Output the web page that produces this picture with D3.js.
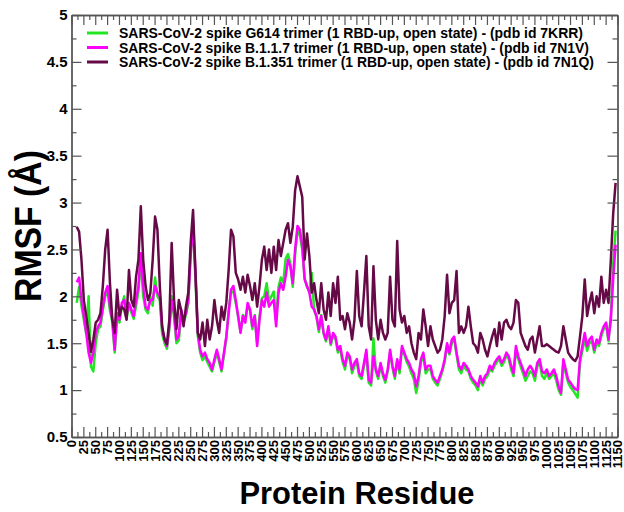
<!DOCTYPE html>
<html>
<head>
<meta charset="utf-8">
<script src="https://cdn.jsdelivr.net/npm/d3@7"></script>
<style>
  body { margin: 0; background: #fff; }
  svg { display: block; }
  .tick text { font-family: 'Liberation Sans', Arial, sans-serif; font-weight: bold; fill: #000; }
</style>
</head>
<body>
<div class="chart"></div>
<script>
// residue grid (every 5th residue)
var residues = d3.range(11, 1150, 5);

var seriesNames = [
  "SARS-CoV-2 spike G614 trimer (1 RBD-up, open  state) - (pdb id 7KRR)",
  "SARS-CoV-2 spike B.1.1.7 trimer (1 RBD-up, open state) - (pdb id 7N1V)",
  "SARS-CoV-2 spike B.1.351 trimer (1 RBD-up, open state) - (pdb id 7N1Q)"
];
var seriesColors = ["#22e622", "#ff00ff", "#650a46"];

// RMSF values (Å)
var rmsfG614 = [
  1.93,2.1,1.9,1.75,1.6,2.0,1.25,1.2,1.5,1.65,1.68,1.85,2.0,2.05,1.85,1.72,1.4,1.78,1.72,1.9,2.0,1.76,1.9,1.83,1.76,1.9,2.05,2.4,2.0,1.86,1.82,2.0,1.9,2.2,2.0,1.96,1.6,1.5,1.44,1.65,2.0,1.78,1.5,1.53,
  1.82,1.72,1.8,1.93,2.5,2.7,2.2,1.58,1.4,1.32,1.36,1.3,1.25,1.2,1.3,1.4,1.3,1.2,1.37,1.55,1.85,2.05,2.05,1.93,1.78,1.62,1.8,1.75,1.9,1.85,1.65,1.8,1.5,1.78,1.98,2.0,2.14,1.95,2.0,2.05,1.75,2.1,2.2,2.15,2.4,2.45,2.35,
  2.1,2.45,2.7,2.65,2.5,2.2,2.1,2.05,2.25,1.85,1.78,1.62,1.8,1.6,1.52,1.65,1.48,1.58,1.55,1.4,1.44,1.3,1.22,1.37,1.33,1.18,1.26,1.3,1.15,1.12,1.26,1.4,1.08,1.05,1.55,1.2,1.12,1.26,1.15,1.08,1.2,1.4,1.24,1.12,1.3,1.18,
  1.44,1.38,1.3,1.25,1.18,1.12,0.97,1.1,1.3,1.37,1.18,1.22,1.22,1.12,1.08,1.05,1.12,1.2,1.3,1.47,1.38,1.5,1.55,1.38,1.22,1.18,1.26,1.22,1.2,1.12,1.08,1.05,1.0,1.12,1.05,1.12,1.15,1.22,1.2,1.26,1.3,1.33,1.26,1.3,1.37,1.33,
  1.22,1.15,1.42,1.33,1.25,1.18,1.1,1.15,1.2,1.18,1.1,1.25,1.3,1.15,1.12,1.18,1.12,1.15,1.18,1.1,1.0,0.95,1.3,1.18,1.08,1.03,1.0,0.96,0.92,1.3,1.42,1.55,1.42,1.5,1.52,1.4,1.5,1.47,1.58,1.65,1.7,1.52,1.8,2.35,2.7
];
var rmsfB117 = [
  2.15,2.2,1.96,1.79,1.61,1.4,1.29,1.4,1.61,1.68,1.72,1.89,2.04,2.11,1.89,1.75,1.43,1.82,1.75,1.93,1.96,1.79,1.93,1.86,1.79,1.96,2.11,2.46,2.11,1.89,1.86,1.96,1.96,2.11,2.04,2.0,1.65,1.54,1.47,1.68,1.96,1.82,1.54,1.58,
  1.86,1.75,1.82,1.96,2.43,2.8,2.25,1.61,1.43,1.36,1.4,1.33,1.29,1.22,1.33,1.43,1.33,1.22,1.4,1.57,1.82,2.07,2.11,1.96,1.79,1.61,1.79,1.72,1.93,1.86,1.68,1.79,1.47,1.75,1.96,1.89,2.04,1.89,1.93,1.96,1.68,2.04,2.14,2.07,2.21,2.39,2.32,
  2.14,2.5,2.75,2.71,2.54,2.18,2.11,2.04,1.89,1.86,1.79,1.65,1.79,1.61,1.54,1.68,1.5,1.61,1.57,1.43,1.47,1.33,1.26,1.4,1.36,1.22,1.29,1.33,1.18,1.15,1.29,1.43,1.11,1.08,1.36,1.22,1.15,1.29,1.18,1.11,1.22,1.43,1.26,1.15,1.33,1.22,
  1.47,1.4,1.33,1.29,1.22,1.18,1.04,1.15,1.33,1.4,1.22,1.26,1.26,1.15,1.11,1.08,1.15,1.22,1.33,1.5,1.4,1.54,1.57,1.4,1.26,1.22,1.29,1.26,1.22,1.15,1.11,1.08,1.04,1.15,1.08,1.15,1.18,1.26,1.22,1.29,1.33,1.36,1.29,1.33,1.4,1.36,
  1.26,1.18,1.47,1.36,1.29,1.22,1.15,1.22,1.26,1.22,1.15,1.29,1.33,1.2,1.18,1.22,1.15,1.18,1.22,1.15,1.04,0.97,1.33,1.22,1.11,1.08,1.04,1.01,1.0,1.33,1.47,1.61,1.47,1.54,1.57,1.43,1.54,1.5,1.61,1.68,1.72,1.54,1.75,2.2,2.55
];
var rmsfB1351 = [
  2.74,2.69,2.39,1.96,1.79,1.61,1.41,1.54,1.72,1.75,1.82,2.11,2.5,2.71,2.14,1.75,1.61,2.07,1.79,1.89,1.86,1.75,2.28,1.96,1.89,2.21,2.39,2.96,2.39,2.11,1.96,2.03,2.39,2.85,2.71,2.11,1.68,1.54,1.49,1.75,2.57,1.96,1.65,1.96,
  1.85,1.68,1.89,2.04,2.57,2.92,2.28,1.61,1.54,1.72,1.47,1.75,1.54,1.68,1.96,1.75,1.61,1.89,1.75,1.93,2.28,2.71,2.64,2.25,2.18,2.07,2.21,2.04,2.23,2.11,1.96,2.14,1.89,2.11,2.39,2.53,2.28,2.5,2.25,2.53,2.28,2.6,2.43,2.57,2.71,2.78,2.57,
  2.74,3.13,3.28,3.17,3.06,2.39,2.67,2.43,2.04,2.14,1.96,1.82,2.14,1.86,1.75,2.04,1.79,2.14,1.93,2.21,1.75,1.79,1.65,1.82,1.72,1.54,1.75,2.27,1.79,1.68,2.04,2.43,1.68,1.54,2.32,1.75,1.54,1.75,1.61,1.54,1.61,2.21,1.75,1.68,2.59,1.86,
  1.72,1.79,1.61,1.68,1.5,1.4,1.33,1.61,1.54,1.86,1.68,1.47,1.68,1.54,1.47,1.4,1.43,1.54,1.79,2.23,1.82,1.93,1.96,2.27,1.61,1.68,1.61,1.68,1.89,1.68,1.5,1.47,1.4,1.61,1.54,1.43,1.36,1.47,1.57,1.65,1.47,1.72,1.54,1.72,1.75,1.68,
  1.65,1.72,1.96,1.93,1.61,1.54,1.47,1.43,1.54,1.57,1.4,1.54,1.68,1.47,1.47,1.49,1.47,1.45,1.43,1.41,1.4,1.47,1.68,1.54,1.4,1.36,1.33,1.31,1.36,1.57,1.79,2.18,1.79,1.93,2.04,1.82,2.0,1.89,2.21,1.93,2.07,1.93,2.39,2.89,3.21
];

var xTicks = d3.range(0, 1151, 25);
var xMinor = d3.range(12.5, 1150, 25);
var yTicks = [0.5, 1, 1.5, 2, 2.5, 3, 3.5, 4, 4.5, 5];
var yMinor = [0.75, 1.25, 1.75, 2.25, 2.75, 3.25, 3.75, 4.25, 4.75];

var width = 624, height = 512;
var plotL = 71.5, plotR = 617.5, plotT = 15, plotB = 437;

var svg = d3.select(".chart").append("svg")
    .attr("width", width).attr("height", height);

var x = d3.scaleLinear().domain([0, 1150]).range([plotL, plotR]);
var y = d3.scaleLinear().domain([0.5, 5]).range([plotB, plotT]);

// lines first, frame drawn over
var allSeries = [rmsfG614, rmsfB117, rmsfB1351];
var line = d3.line()
    .x(function(d, i) { return x(residues[i]); })
    .y(function(d) { return y(d); });

svg.append("g").attr("id", "lines")
  .selectAll("path")
  .data(allSeries)
  .enter()
  .append("path")
    .attr("d", line)
    .attr("fill", "none")
    .attr("stroke", function(d, i) { return seriesColors[i]; })
    .attr("stroke-width", 2.5)
    .attr("stroke-linejoin", "round");

var axisColor = "#555";
function styleAxis(g) {
  g.select(".domain").attr("stroke", axisColor).attr("stroke-width", 1.3);
  g.selectAll(".tick line").attr("stroke", axisColor).attr("stroke-width", 1.2);
}

// bottom
var gb = svg.append("g").attr("transform", "translate(0," + plotB + ")")
    .call(d3.axisBottom(x).tickValues(xTicks).tickSize(-10).tickSizeOuter(0).tickFormat(d3.format("d")));
gb.call(styleAxis);
gb.selectAll(".tick text")
    .attr("transform", "rotate(-90)")
    .attr("x", -3).attr("y", 0).attr("dy", "0.34em")
    .style("text-anchor", "end")
    .style("font-size", "13px");
svg.append("g").attr("transform", "translate(0," + plotB + ")")
    .call(d3.axisBottom(x).tickValues(xMinor).tickSize(-5).tickSizeOuter(0).tickFormat(""))
    .call(styleAxis);

// top
svg.append("g").attr("transform", "translate(0," + plotT + ")")
    .call(d3.axisTop(x).tickValues(xTicks).tickSize(-10).tickSizeOuter(0).tickFormat(""))
    .call(styleAxis);
svg.append("g").attr("transform", "translate(0," + plotT + ")")
    .call(d3.axisTop(x).tickValues(xMinor).tickSize(-5).tickSizeOuter(0).tickFormat(""))
    .call(styleAxis);

// left
var gl = svg.append("g").attr("transform", "translate(" + plotL + ",0)")
    .call(d3.axisLeft(y).tickValues(yTicks).tickSize(-10).tickSizeOuter(0).tickFormat(function(d) { return String(d); }));
gl.call(styleAxis);
gl.selectAll(".tick text").attr("x", -4)
    .style("font-size", "15px");
svg.append("g").attr("transform", "translate(" + plotL + ",0)")
    .call(d3.axisLeft(y).tickValues(yMinor).tickSize(-5).tickSizeOuter(0).tickFormat(""))
    .call(styleAxis);

// right
svg.append("g").attr("transform", "translate(" + plotR + ",0)")
    .call(d3.axisRight(y).tickValues(yTicks).tickSize(-10).tickSizeOuter(0).tickFormat(""))
    .call(styleAxis);
svg.append("g").attr("transform", "translate(" + plotR + ",0)")
    .call(d3.axisRight(y).tickValues(yMinor).tickSize(-5).tickSizeOuter(0).tickFormat(""))
    .call(styleAxis);

// axis titles
svg.append("text")
    .attr("transform", "translate(41,226) rotate(-90)")
    .attr("text-anchor", "middle")
    .style("font-family", "'Liberation Sans', Arial, sans-serif")
    .style("font-weight", "bold")
    .style("font-size", "36px")
    .attr("textLength", 152).attr("lengthAdjust", "spacingAndGlyphs")
    .text("RMSF (Å)");

svg.append("text")
    .attr("x", 357).attr("y", 504)
    .attr("text-anchor", "middle")
    .style("font-family", "'Liberation Sans', Arial, sans-serif")
    .style("font-weight", "bold")
    .style("font-size", "31px")
    .attr("textLength", 235).attr("lengthAdjust", "spacingAndGlyphs")
    .text("Protein Residue");

// legend
var legendY = [33, 47.5, 62];
var legendLen = [464, 470, 475];
var lg = svg.append("g").attr("id", "legend")
  .selectAll("g")
  .data(seriesNames)
  .enter()
  .append("g")
    .attr("transform", function(d, i) { return "translate(0," + legendY[i] + ")"; });
lg.append("line")
    .attr("x1", 87).attr("x2", 108)
    .attr("stroke", function(d, i) { return seriesColors[i]; })
    .attr("stroke-width", 3);
lg.append("text")
    .attr("x", 119).attr("dy", "0.36em")
    .style("font-family", "'Liberation Sans', Arial, sans-serif")
    .style("font-weight", "bold")
    .style("font-size", "14px")
    .attr("textLength", function(d, i) { return legendLen[i]; })
    .attr("lengthAdjust", "spacingAndGlyphs")
    .text(function(d) { return d; });
</script>
</body>
</html>
